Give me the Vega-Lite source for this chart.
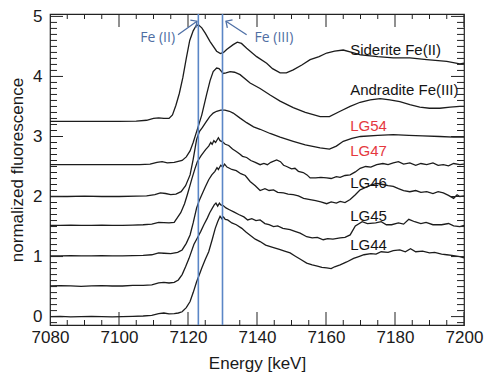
{
  "$schema": "https://vega.github.io/schema/vega-lite/v6.json",
  "width": 414,
  "height": 311,
  "autosize": {"type": "none"},
  "padding": {"left": 50, "top": 14, "right": 22, "bottom": 48},
  "background": "white",
  "config": {
    "view": {"stroke": "#222222", "strokeWidth": 1.2}
  },
  "datasets": {
    "spectra": [
      {"s":"Siderite","E":7080,"v":3.25},{"s":"Siderite","E":7085,"v":3.25},{"s":"Siderite","E":7090,"v":3.25},{"s":"Siderite","E":7095,"v":3.25},{"s":"Siderite","E":7100,"v":3.25},{"s":"Siderite","E":7105,"v":3.255},{"s":"Siderite","E":7108,"v":3.27},{"s":"Siderite","E":7110,"v":3.30},{"s":"Siderite","E":7111.5,"v":3.31},{"s":"Siderite","E":7113,"v":3.30},{"s":"Siderite","E":7114.5,"v":3.30},{"s":"Siderite","E":7115.5,"v":3.36},{"s":"Siderite","E":7116.5,"v":3.52},{"s":"Siderite","E":7117.5,"v":3.72},{"s":"Siderite","E":7118.5,"v":3.98},{"s":"Siderite","E":7119.5,"v":4.30},{"s":"Siderite","E":7120.5,"v":4.60},{"s":"Siderite","E":7121.5,"v":4.76},{"s":"Siderite","E":7122.3,"v":4.84},{"s":"Siderite","E":7123,"v":4.86},{"s":"Siderite","E":7124,"v":4.81},{"s":"Siderite","E":7125,"v":4.72},{"s":"Siderite","E":7126.4,"v":4.58},{"s":"Siderite","E":7128.3,"v":4.42},{"s":"Siderite","E":7129.4,"v":4.38},{"s":"Siderite","E":7130.3,"v":4.40},{"s":"Siderite","E":7131.2,"v":4.45},{"s":"Siderite","E":7133.1,"v":4.53},{"s":"Siderite","E":7134.3,"v":4.57},{"s":"Siderite","E":7135.5,"v":4.55},{"s":"Siderite","E":7137,"v":4.47},{"s":"Siderite","E":7139.9,"v":4.33},{"s":"Siderite","E":7142.8,"v":4.22},{"s":"Siderite","E":7144.5,"v":4.13},{"s":"Siderite","E":7146.7,"v":4.06},{"s":"Siderite","E":7148.5,"v":4.06},{"s":"Siderite","E":7150.5,"v":4.11},{"s":"Siderite","E":7153,"v":4.19},{"s":"Siderite","E":7155.4,"v":4.28},{"s":"Siderite","E":7158,"v":4.33},{"s":"Siderite","E":7160.2,"v":4.39},{"s":"Siderite","E":7162.5,"v":4.42},{"s":"Siderite","E":7165,"v":4.44},{"s":"Siderite","E":7167.5,"v":4.40},{"s":"Siderite","E":7170,"v":4.36},{"s":"Siderite","E":7175,"v":4.33},{"s":"Siderite","E":7179.5,"v":4.31},{"s":"Siderite","E":7184.3,"v":4.31},{"s":"Siderite","E":7189.2,"v":4.28},{"s":"Siderite","E":7195,"v":4.25},{"s":"Siderite","E":7198.8,"v":4.21},{"s":"Siderite","E":7200,"v":4.22},

      {"s":"Andradite","E":7080,"v":2.53},{"s":"Andradite","E":7090,"v":2.53},{"s":"Andradite","E":7100,"v":2.53},{"s":"Andradite","E":7106,"v":2.53},{"s":"Andradite","E":7109,"v":2.54},{"s":"Andradite","E":7111,"v":2.57},{"s":"Andradite","E":7112.5,"v":2.58},{"s":"Andradite","E":7114,"v":2.56},{"s":"Andradite","E":7116,"v":2.57},{"s":"Andradite","E":7118.3,"v":2.60},{"s":"Andradite","E":7119.5,"v":2.66},{"s":"Andradite","E":7120.6,"v":2.76},{"s":"Andradite","E":7121.5,"v":2.90},{"s":"Andradite","E":7122.5,"v":3.08},{"s":"Andradite","E":7124,"v":3.36},{"s":"Andradite","E":7125.4,"v":3.70},{"s":"Andradite","E":7126.4,"v":3.93},{"s":"Andradite","E":7127.3,"v":4.08},{"s":"Andradite","E":7128.3,"v":4.14},{"s":"Andradite","E":7129,"v":4.13},{"s":"Andradite","E":7130.2,"v":4.05},{"s":"Andradite","E":7131,"v":4.06},{"s":"Andradite","E":7132.2,"v":4.08},{"s":"Andradite","E":7133.5,"v":4.07},{"s":"Andradite","E":7135.1,"v":4.03},{"s":"Andradite","E":7138,"v":3.89},{"s":"Andradite","E":7140.9,"v":3.80},{"s":"Andradite","E":7143.8,"v":3.69},{"s":"Andradite","E":7146.7,"v":3.59},{"s":"Andradite","E":7150.5,"v":3.48},{"s":"Andradite","E":7154,"v":3.40},{"s":"Andradite","E":7158.3,"v":3.33},{"s":"Andradite","E":7161,"v":3.33},{"s":"Andradite","E":7164.1,"v":3.42},{"s":"Andradite","E":7167,"v":3.50},{"s":"Andradite","E":7169.9,"v":3.57},{"s":"Andradite","E":7172.8,"v":3.61},{"s":"Andradite","E":7175.7,"v":3.63},{"s":"Andradite","E":7178.5,"v":3.61},{"s":"Andradite","E":7181.4,"v":3.58},{"s":"Andradite","E":7184.3,"v":3.53},{"s":"Andradite","E":7187.2,"v":3.49},{"s":"Andradite","E":7190,"v":3.47},{"s":"Andradite","E":7193,"v":3.47},{"s":"Andradite","E":7196,"v":3.49},{"s":"Andradite","E":7198.8,"v":3.50},{"s":"Andradite","E":7200,"v":3.50},

      {"s":"LG54","E":7080,"v":2.00},{"s":"LG54","E":7085,"v":2.00},{"s":"LG54","E":7090,"v":2.005},{"s":"LG54","E":7095,"v":2.00},{"s":"LG54","E":7100,"v":2.00},{"s":"LG54","E":7105,"v":2.005},{"s":"LG54","E":7108,"v":2.01},{"s":"LG54","E":7110.4,"v":2.03},{"s":"LG54","E":7112,"v":2.06},{"s":"LG54","E":7113.5,"v":2.05},{"s":"LG54","E":7115,"v":2.03},{"s":"LG54","E":7116.5,"v":2.04},{"s":"LG54","E":7118,"v":2.08},{"s":"LG54","E":7119.3,"v":2.18},{"s":"LG54","E":7120.6,"v":2.36},{"s":"LG54","E":7121.5,"v":2.62},{"s":"LG54","E":7122.5,"v":2.95},{"s":"LG54","E":7123.3,"v":3.08},{"s":"LG54","E":7124.2,"v":3.15},{"s":"LG54","E":7125.2,"v":3.24},{"s":"LG54","E":7126.3,"v":3.33},{"s":"LG54","E":7127.3,"v":3.39},{"s":"LG54","E":7128.3,"v":3.42},{"s":"LG54","E":7129.5,"v":3.44},{"s":"LG54","E":7130.7,"v":3.44},{"s":"LG54","E":7132,"v":3.42},{"s":"LG54","E":7133.1,"v":3.39},{"s":"LG54","E":7135,"v":3.31},{"s":"LG54","E":7137,"v":3.23},{"s":"LG54","E":7139,"v":3.16},{"s":"LG54","E":7140.9,"v":3.12},{"s":"LG54","E":7143.8,"v":3.05},{"s":"LG54","E":7146.7,"v":2.99},{"s":"LG54","E":7150.5,"v":2.92},{"s":"LG54","E":7154,"v":2.86},{"s":"LG54","E":7158.3,"v":2.81},{"s":"LG54","E":7161,"v":2.79},{"s":"LG54","E":7163,"v":2.84},{"s":"LG54","E":7165,"v":2.92},{"s":"LG54","E":7167.5,"v":2.97},{"s":"LG54","E":7170,"v":3.00},{"s":"LG54","E":7175,"v":3.02},{"s":"LG54","E":7179.5,"v":3.03},{"s":"LG54","E":7184,"v":3.02},{"s":"LG54","E":7188,"v":3.01},{"s":"LG54","E":7193,"v":3.00},{"s":"LG54","E":7197,"v":2.99},{"s":"LG54","E":7200,"v":2.99},

      {"s":"LG47","E":7080,"v":1.52},{"s":"LG47","E":7083,"v":1.52},{"s":"LG47","E":7086,"v":1.525},{"s":"LG47","E":7089,"v":1.52},{"s":"LG47","E":7092,"v":1.52},{"s":"LG47","E":7095,"v":1.525},{"s":"LG47","E":7098,"v":1.52},{"s":"LG47","E":7101,"v":1.52},{"s":"LG47","E":7104,"v":1.525},{"s":"LG47","E":7107,"v":1.53},{"s":"LG47","E":7109.5,"v":1.54},{"s":"LG47","E":7111.5,"v":1.57},{"s":"LG47","E":7113,"v":1.565},{"s":"LG47","E":7114.5,"v":1.56},{"s":"LG47","E":7116,"v":1.57},{"s":"LG47","E":7117.9,"v":1.73},{"s":"LG47","E":7119,"v":1.88},{"s":"LG47","E":7119.8,"v":2.03},{"s":"LG47","E":7120.5,"v":2.17},{"s":"LG47","E":7121.2,"v":2.31},{"s":"LG47","E":7122,"v":2.46},{"s":"LG47","E":7122.7,"v":2.58},{"s":"LG47","E":7123.8,"v":2.68},{"s":"LG47","E":7125.1,"v":2.78},{"s":"LG47","E":7126,"v":2.84},{"s":"LG47","E":7126.6,"v":2.90},{"s":"LG47","E":7127,"v":2.87},{"s":"LG47","E":7127.5,"v":2.93},{"s":"LG47","E":7128,"v":2.90},{"s":"LG47","E":7128.8,"v":2.98},{"s":"LG47","E":7129.3,"v":2.93},{"s":"LG47","E":7130,"v":2.91},{"s":"LG47","E":7130.8,"v":2.87},{"s":"LG47","E":7131.8,"v":2.85},{"s":"LG47","E":7132.9,"v":2.79},{"s":"LG47","E":7134,"v":2.75},{"s":"LG47","E":7135,"v":2.71},{"s":"LG47","E":7135.8,"v":2.67},{"s":"LG47","E":7137,"v":2.65},{"s":"LG47","E":7138.2,"v":2.60},{"s":"LG47","E":7139.5,"v":2.57},{"s":"LG47","E":7140.9,"v":2.53},{"s":"LG47","E":7142,"v":2.55},{"s":"LG47","E":7143,"v":2.53},{"s":"LG47","E":7144,"v":2.57},{"s":"LG47","E":7145.7,"v":2.61},{"s":"LG47","E":7146.8,"v":2.58},{"s":"LG47","E":7147.7,"v":2.52},{"s":"LG47","E":7148.6,"v":2.50},{"s":"LG47","E":7150,"v":2.46},{"s":"LG47","E":7151,"v":2.47},{"s":"LG47","E":7152,"v":2.42},{"s":"LG47","E":7153.4,"v":2.40},{"s":"LG47","E":7154.5,"v":2.36},{"s":"LG47","E":7155.4,"v":2.31},{"s":"LG47","E":7157,"v":2.31},{"s":"LG47","E":7158.5,"v":2.32},{"s":"LG47","E":7160.2,"v":2.31},{"s":"LG47","E":7161.5,"v":2.30},{"s":"LG47","E":7163,"v":2.33},{"s":"LG47","E":7164.1,"v":2.32},{"s":"LG47","E":7165.5,"v":2.35},{"s":"LG47","E":7167,"v":2.36},{"s":"LG47","E":7168.5,"v":2.41},{"s":"LG47","E":7169.9,"v":2.47},{"s":"LG47","E":7171.5,"v":2.50},{"s":"LG47","E":7173,"v":2.49},{"s":"LG47","E":7174.7,"v":2.53},{"s":"LG47","E":7176.5,"v":2.55},{"s":"LG47","E":7178,"v":2.53},{"s":"LG47","E":7179.5,"v":2.56},{"s":"LG47","E":7181,"v":2.58},{"s":"LG47","E":7182.5,"v":2.54},{"s":"LG47","E":7184.3,"v":2.56},{"s":"LG47","E":7186,"v":2.52},{"s":"LG47","E":7187.5,"v":2.55},{"s":"LG47","E":7189.2,"v":2.53},{"s":"LG47","E":7191,"v":2.56},{"s":"LG47","E":7192.5,"v":2.52},{"s":"LG47","E":7194,"v":2.53},{"s":"LG47","E":7195.5,"v":2.51},{"s":"LG47","E":7197,"v":2.55},{"s":"LG47","E":7198.8,"v":2.53},{"s":"LG47","E":7200,"v":2.54},

      {"s":"LG46","E":7080,"v":1.01},{"s":"LG46","E":7083,"v":1.01},{"s":"LG46","E":7086,"v":1.015},{"s":"LG46","E":7089,"v":1.01},{"s":"LG46","E":7092,"v":1.01},{"s":"LG46","E":7095,"v":1.015},{"s":"LG46","E":7098,"v":1.01},{"s":"LG46","E":7101,"v":1.01},{"s":"LG46","E":7104,"v":1.015},{"s":"LG46","E":7107,"v":1.02},{"s":"LG46","E":7109.5,"v":1.03},{"s":"LG46","E":7111.5,"v":1.06},{"s":"LG46","E":7113,"v":1.055},{"s":"LG46","E":7115,"v":1.05},{"s":"LG46","E":7117,"v":1.07},{"s":"LG46","E":7118.3,"v":1.11},{"s":"LG46","E":7119.5,"v":1.22},{"s":"LG46","E":7120.6,"v":1.36},{"s":"LG46","E":7121.5,"v":1.56},{"s":"LG46","E":7122.5,"v":1.81},{"s":"LG46","E":7123.3,"v":1.94},{"s":"LG46","E":7124,"v":2.03},{"s":"LG46","E":7125,"v":2.16},{"s":"LG46","E":7126,"v":2.28},{"s":"LG46","E":7126.9,"v":2.36},{"s":"LG46","E":7127.8,"v":2.42},{"s":"LG46","E":7128.4,"v":2.48},{"s":"LG46","E":7128.8,"v":2.45},{"s":"LG46","E":7129.5,"v":2.52},{"s":"LG46","E":7130.1,"v":2.49},{"s":"LG46","E":7130.6,"v":2.54},{"s":"LG46","E":7131.3,"v":2.49},{"s":"LG46","E":7132.7,"v":2.45},{"s":"LG46","E":7134,"v":2.43},{"s":"LG46","E":7135.3,"v":2.38},{"s":"LG46","E":7136.6,"v":2.35},{"s":"LG46","E":7138,"v":2.25},{"s":"LG46","E":7139.5,"v":2.18},{"s":"LG46","E":7140.9,"v":2.10},{"s":"LG46","E":7142.3,"v":2.13},{"s":"LG46","E":7143.5,"v":2.10},{"s":"LG46","E":7144.8,"v":2.11},{"s":"LG46","E":7146,"v":2.07},{"s":"LG46","E":7147.7,"v":2.06},{"s":"LG46","E":7149,"v":2.04},{"s":"LG46","E":7150.5,"v":2.03},{"s":"LG46","E":7152,"v":2.01},{"s":"LG46","E":7153.5,"v":1.97},{"s":"LG46","E":7155.4,"v":1.95},{"s":"LG46","E":7157,"v":1.93},{"s":"LG46","E":7158.5,"v":1.91},{"s":"LG46","E":7160.2,"v":1.88},{"s":"LG46","E":7161.5,"v":1.91},{"s":"LG46","E":7163,"v":1.89},{"s":"LG46","E":7164.1,"v":1.92},{"s":"LG46","E":7165.5,"v":1.90},{"s":"LG46","E":7167,"v":1.95},{"s":"LG46","E":7168.5,"v":2.03},{"s":"LG46","E":7169.9,"v":2.11},{"s":"LG46","E":7171.5,"v":2.15},{"s":"LG46","E":7173,"v":2.19},{"s":"LG46","E":7174.7,"v":2.22},{"s":"LG46","E":7176.5,"v":2.20},{"s":"LG46","E":7178,"v":2.18},{"s":"LG46","E":7179.5,"v":2.17},{"s":"LG46","E":7181,"v":2.13},{"s":"LG46","E":7182.5,"v":2.10},{"s":"LG46","E":7184.3,"v":2.08},{"s":"LG46","E":7186,"v":2.10},{"s":"LG46","E":7187.5,"v":2.07},{"s":"LG46","E":7189.2,"v":2.08},{"s":"LG46","E":7191,"v":2.05},{"s":"LG46","E":7192.5,"v":2.08},{"s":"LG46","E":7194,"v":2.06},{"s":"LG46","E":7195.5,"v":2.02},{"s":"LG46","E":7197,"v":1.97},{"s":"LG46","E":7198,"v":2.03},{"s":"LG46","E":7198.8,"v":2.00},{"s":"LG46","E":7200,"v":2.01},

      {"s":"LG45","E":7080,"v":0.51},{"s":"LG45","E":7083,"v":0.515},{"s":"LG45","E":7086,"v":0.51},{"s":"LG45","E":7089,"v":0.505},{"s":"LG45","E":7092,"v":0.51},{"s":"LG45","E":7095,"v":0.515},{"s":"LG45","E":7098,"v":0.51},{"s":"LG45","E":7101,"v":0.51},{"s":"LG45","E":7104,"v":0.52},{"s":"LG45","E":7107,"v":0.52},{"s":"LG45","E":7109.5,"v":0.53},{"s":"LG45","E":7111.5,"v":0.56},{"s":"LG45","E":7113,"v":0.57},{"s":"LG45","E":7114.5,"v":0.56},{"s":"LG45","E":7116,"v":0.57},{"s":"LG45","E":7117.2,"v":0.61},{"s":"LG45","E":7118.3,"v":0.70},{"s":"LG45","E":7119.3,"v":0.83},{"s":"LG45","E":7120.3,"v":0.97},{"s":"LG45","E":7121.7,"v":1.20},{"s":"LG45","E":7122.7,"v":1.31},{"s":"LG45","E":7123.7,"v":1.42},{"s":"LG45","E":7124.6,"v":1.53},{"s":"LG45","E":7125.6,"v":1.64},{"s":"LG45","E":7126.3,"v":1.73},{"s":"LG45","E":7127.1,"v":1.81},{"s":"LG45","E":7127.6,"v":1.86},{"s":"LG45","E":7128.1,"v":1.89},{"s":"LG45","E":7128.6,"v":1.84},{"s":"LG45","E":7129.1,"v":1.89},{"s":"LG45","E":7129.5,"v":1.86},{"s":"LG45","E":7130.2,"v":1.85},{"s":"LG45","E":7131,"v":1.81},{"s":"LG45","E":7132,"v":1.78},{"s":"LG45","E":7133.4,"v":1.74},{"s":"LG45","E":7134.7,"v":1.70},{"s":"LG45","E":7136.2,"v":1.66},{"s":"LG45","E":7137.3,"v":1.61},{"s":"LG45","E":7138.5,"v":1.63},{"s":"LG45","E":7139.7,"v":1.60},{"s":"LG45","E":7140.9,"v":1.61},{"s":"LG45","E":7142.3,"v":1.55},{"s":"LG45","E":7143.5,"v":1.53},{"s":"LG45","E":7144.8,"v":1.50},{"s":"LG45","E":7146,"v":1.51},{"s":"LG45","E":7147.5,"v":1.47},{"s":"LG45","E":7149.6,"v":1.45},{"s":"LG45","E":7151,"v":1.42},{"s":"LG45","E":7152.5,"v":1.39},{"s":"LG45","E":7154.4,"v":1.33},{"s":"LG45","E":7156,"v":1.31},{"s":"LG45","E":7157.5,"v":1.32},{"s":"LG45","E":7159.2,"v":1.28},{"s":"LG45","E":7160.5,"v":1.30},{"s":"LG45","E":7162,"v":1.29},{"s":"LG45","E":7164.1,"v":1.31},{"s":"LG45","E":7165.5,"v":1.32},{"s":"LG45","E":7167,"v":1.36},{"s":"LG45","E":7168.5,"v":1.51},{"s":"LG45","E":7170.5,"v":1.58},{"s":"LG45","E":7172,"v":1.55},{"s":"LG45","E":7174.4,"v":1.56},{"s":"LG45","E":7176,"v":1.58},{"s":"LG45","E":7177.5,"v":1.53},{"s":"LG45","E":7179,"v":1.53},{"s":"LG45","E":7181,"v":1.56},{"s":"LG45","E":7182.5,"v":1.54},{"s":"LG45","E":7184,"v":1.62},{"s":"LG45","E":7185.7,"v":1.58},{"s":"LG45","E":7187.5,"v":1.55},{"s":"LG45","E":7189,"v":1.57},{"s":"LG45","E":7191,"v":1.53},{"s":"LG45","E":7193.5,"v":1.53},{"s":"LG45","E":7195.5,"v":1.55},{"s":"LG45","E":7197,"v":1.51},{"s":"LG45","E":7198.8,"v":1.50},{"s":"LG45","E":7200,"v":1.52},

      {"s":"LG44","E":7080,"v":0.00},{"s":"LG44","E":7083,"v":0.005},{"s":"LG44","E":7086,"v":-0.005},{"s":"LG44","E":7089,"v":0.00},{"s":"LG44","E":7092,"v":0.005},{"s":"LG44","E":7095,"v":0.00},{"s":"LG44","E":7098,"v":-0.005},{"s":"LG44","E":7101,"v":0.00},{"s":"LG44","E":7104,"v":0.005},{"s":"LG44","E":7107,"v":0.01},{"s":"LG44","E":7109.5,"v":0.02},{"s":"LG44","E":7111.5,"v":0.05},{"s":"LG44","E":7113,"v":0.06},{"s":"LG44","E":7114.5,"v":0.045},{"s":"LG44","E":7116,"v":0.05},{"s":"LG44","E":7117.2,"v":0.06},{"s":"LG44","E":7118.3,"v":0.08},{"s":"LG44","E":7119.5,"v":0.15},{"s":"LG44","E":7120.6,"v":0.25},{"s":"LG44","E":7121.5,"v":0.40},{"s":"LG44","E":7122.5,"v":0.58},{"s":"LG44","E":7123.3,"v":0.70},{"s":"LG44","E":7124,"v":0.81},{"s":"LG44","E":7125,"v":0.95},{"s":"LG44","E":7126,"v":1.08},{"s":"LG44","E":7127,"v":1.28},{"s":"LG44","E":7127.9,"v":1.47},{"s":"LG44","E":7128.6,"v":1.58},{"s":"LG44","E":7129.3,"v":1.67},{"s":"LG44","E":7129.8,"v":1.63},{"s":"LG44","E":7130.3,"v":1.66},{"s":"LG44","E":7130.8,"v":1.62},{"s":"LG44","E":7131.5,"v":1.61},{"s":"LG44","E":7132.7,"v":1.56},{"s":"LG44","E":7134,"v":1.53},{"s":"LG44","E":7135.6,"v":1.47},{"s":"LG44","E":7136.8,"v":1.41},{"s":"LG44","E":7137.9,"v":1.36},{"s":"LG44","E":7139.5,"v":1.29},{"s":"LG44","E":7140.9,"v":1.25},{"s":"LG44","E":7142.5,"v":1.19},{"s":"LG44","E":7144.8,"v":1.15},{"s":"LG44","E":7146.5,"v":1.12},{"s":"LG44","E":7148,"v":1.09},{"s":"LG44","E":7149.6,"v":1.06},{"s":"LG44","E":7151,"v":1.01},{"s":"LG44","E":7152.7,"v":0.95},{"s":"LG44","E":7154.4,"v":0.89},{"s":"LG44","E":7156,"v":0.86},{"s":"LG44","E":7157.5,"v":0.84},{"s":"LG44","E":7158.8,"v":0.82},{"s":"LG44","E":7160.2,"v":0.81},{"s":"LG44","E":7161.5,"v":0.80},{"s":"LG44","E":7162.5,"v":0.83},{"s":"LG44","E":7164.1,"v":0.86},{"s":"LG44","E":7166,"v":0.91},{"s":"LG44","E":7168,"v":0.97},{"s":"LG44","E":7169.5,"v":1.00},{"s":"LG44","E":7171,"v":1.03},{"s":"LG44","E":7173,"v":1.05},{"s":"LG44","E":7174.5,"v":1.04},{"s":"LG44","E":7176,"v":1.08},{"s":"LG44","E":7178,"v":1.07},{"s":"LG44","E":7179.5,"v":1.10},{"s":"LG44","E":7181.4,"v":1.11},{"s":"LG44","E":7183,"v":1.08},{"s":"LG44","E":7184.5,"v":1.13},{"s":"LG44","E":7186,"v":1.08},{"s":"LG44","E":7188,"v":1.09},{"s":"LG44","E":7190,"v":1.06},{"s":"LG44","E":7191.5,"v":1.07},{"s":"LG44","E":7193.5,"v":1.04},{"s":"LG44","E":7195,"v":1.03},{"s":"LG44","E":7196.5,"v":1.02},{"s":"LG44","E":7198.8,"v":1.00},{"s":"LG44","E":7200,"v":0.98}
    ],
    "labels": [
      {"t":"Siderite Fe(II)","E":7167,"v":4.445,"kind":"standard"},
      {"t":"Andradite Fe(III)","E":7167,"v":3.78,"kind":"standard"},
      {"t":"LG54","E":7167,"v":3.18,"kind":"highlighted"},
      {"t":"LG47","E":7167,"v":2.75,"kind":"highlighted"},
      {"t":"LG46","E":7167,"v":2.23,"kind":"sample"},
      {"t":"LG45","E":7167,"v":1.68,"kind":"sample"},
      {"t":"LG44","E":7167,"v":1.195,"kind":"sample"}
    ],
    "edges": [
      {"lab":"Fe (II)","E":7123},
      {"lab":"Fe (III)","E":7130}
    ],
    "arrows": [
      {"lab":"Fe (II)","E0":7117.1,"v0":4.695,"E1":7122.6,"v1":4.92,"Et":7111.2,"vt":4.645},
      {"lab":"Fe (III)","E0":7137.0,"v0":4.695,"E1":7131.0,"v1":4.92,"Et":7144.9,"vt":4.645}
    ],
    "xmajor": [{"E":7080},{"E":7100},{"E":7120},{"E":7140},{"E":7160},{"E":7180},{"E":7200}],
    "xminor": [{"E":7085},{"E":7090},{"E":7095},{"E":7105},{"E":7110},{"E":7115},{"E":7125},{"E":7130},{"E":7135},{"E":7145},{"E":7150},{"E":7155},{"E":7165},{"E":7170},{"E":7175},{"E":7185},{"E":7190},{"E":7195}],
    "ymajor": [{"v":0},{"v":1},{"v":2},{"v":3},{"v":4},{"v":5}],
    "yminor": [{"v":-0.1},{"v":0.1},{"v":0.2},{"v":0.3},{"v":0.4},{"v":0.5},{"v":0.6},{"v":0.7},{"v":0.8},{"v":0.9},{"v":1.1},{"v":1.2},{"v":1.3},{"v":1.4},{"v":1.5},{"v":1.6},{"v":1.7},{"v":1.8},{"v":1.9},{"v":2.1},{"v":2.2},{"v":2.3},{"v":2.4},{"v":2.5},{"v":2.6},{"v":2.7},{"v":2.8},{"v":2.9},{"v":3.1},{"v":3.2},{"v":3.3},{"v":3.4},{"v":3.5},{"v":3.6},{"v":3.7},{"v":3.8},{"v":3.9},{"v":4.1},{"v":4.2},{"v":4.3},{"v":4.4},{"v":4.5},{"v":4.6},{"v":4.7},{"v":4.8},{"v":4.9}]
  },
  "layer": [
    {
      "data": {"name": "spectra"},
      "mark": {"type": "line", "color": "#1c1c1c", "strokeWidth": 1.3},
      "encoding": {
        "x": {"field": "E", "type": "quantitative", "scale": {"domain": [7080, 7200], "nice": false, "zero": false},
              "axis": {"orient": "bottom", "title": "Energy [keV]", "values": [7080, 7100, 7120, 7140, 7160, 7180, 7200], "format": "d", "ticks": false, "tickSize": 0, "grid": false, "domain": false, "labelPadding": 4, "labelFont": "Liberation Sans", "labelColor": "#1a1a1a", "labelFontSize": 17, "titleFont": "Liberation Sans", "titleColor": "#1a1a1a", "titleFontWeight": "normal", "titleFontSize": 17, "titlePadding": 10, "labelFlush": false}},
        "y": {"field": "v", "type": "quantitative", "scale": {"domain": [-0.14, 5.04], "nice": false, "zero": false},
              "axis": {"orient": "left", "title": "normalized fluorescence", "values": [0, 1, 2, 3, 4, 5], "format": "d", "ticks": false, "tickSize": 0, "grid": false, "domain": false, "labelPadding": 8, "labelFont": "Liberation Sans", "labelColor": "#1a1a1a", "labelFontSize": 17, "titleFont": "Liberation Sans", "titleColor": "#1a1a1a", "titleFontWeight": "normal", "titleFontSize": 17, "titlePadding": 6, "labelFlush": false}},
        "detail": {"field": "s"}
      }
    },
    {
      "data": {"name": "xmajor"},
      "mark": {"type": "tick", "orient": "vertical", "size": 26, "thickness": 1, "color": "#222222", "opacity": 1, "clip": true},
      "encoding": {
        "x": {"field": "E", "type": "quantitative", "axis": null},
        "y": {"datum": -0.14, "type": "quantitative", "axis": null}
      }
    },
    {
      "data": {"name": "xmajor"},
      "mark": {"type": "tick", "orient": "vertical", "size": 26, "thickness": 1, "color": "#222222", "opacity": 1, "clip": true},
      "encoding": {
        "x": {"field": "E", "type": "quantitative", "axis": null},
        "y": {"datum": 5.04, "type": "quantitative", "axis": null}
      }
    },
    {
      "data": {"name": "xminor"},
      "mark": {"type": "tick", "orient": "vertical", "size": 10, "thickness": 1, "color": "#222222", "opacity": 1, "clip": true},
      "encoding": {
        "x": {"field": "E", "type": "quantitative", "axis": null},
        "y": {"datum": -0.14, "type": "quantitative", "axis": null}
      }
    },
    {
      "data": {"name": "xminor"},
      "mark": {"type": "tick", "orient": "vertical", "size": 10, "thickness": 1, "color": "#222222", "opacity": 1, "clip": true},
      "encoding": {
        "x": {"field": "E", "type": "quantitative", "axis": null},
        "y": {"datum": 5.04, "type": "quantitative", "axis": null}
      }
    },
    {
      "data": {"name": "ymajor"},
      "mark": {"type": "tick", "orient": "horizontal", "size": 26, "thickness": 1, "color": "#222222", "opacity": 1, "clip": true},
      "encoding": {
        "y": {"field": "v", "type": "quantitative", "axis": null},
        "x": {"datum": 7080, "type": "quantitative", "axis": null}
      }
    },
    {
      "data": {"name": "ymajor"},
      "mark": {"type": "tick", "orient": "horizontal", "size": 26, "thickness": 1, "color": "#222222", "opacity": 1, "clip": true},
      "encoding": {
        "y": {"field": "v", "type": "quantitative", "axis": null},
        "x": {"datum": 7200, "type": "quantitative", "axis": null}
      }
    },
    {
      "data": {"name": "yminor"},
      "mark": {"type": "tick", "orient": "horizontal", "size": 14, "thickness": 1, "color": "#222222", "opacity": 1, "clip": true},
      "encoding": {
        "y": {"field": "v", "type": "quantitative", "axis": null},
        "x": {"datum": 7080, "type": "quantitative", "axis": null}
      }
    },
    {
      "data": {"name": "yminor"},
      "mark": {"type": "tick", "orient": "horizontal", "size": 14, "thickness": 1, "color": "#222222", "opacity": 1, "clip": true},
      "encoding": {
        "y": {"field": "v", "type": "quantitative", "axis": null},
        "x": {"datum": 7200, "type": "quantitative", "axis": null}
      }
    },
    {
      "data": {"name": "labels"},
      "mark": {"type": "text", "align": "left", "baseline": "middle", "font": "Liberation Sans", "fontSize": 15},
      "encoding": {
        "x": {"field": "E", "type": "quantitative", "axis": null},
        "y": {"field": "v", "type": "quantitative", "axis": null},
        "text": {"field": "t"},
        "color": {"field": "kind", "type": "nominal", "scale": {"domain": ["standard", "sample", "highlighted"], "range": ["#141414", "#141414", "#e5383e"]}, "legend": null}
      }
    },
    {
      "data": {"name": "arrows"},
      "mark": {"type": "rule", "color": "#4f70a6", "strokeWidth": 1.3},
      "encoding": {
        "x": {"field": "E0", "type": "quantitative", "axis": null},
        "y": {"field": "v0", "type": "quantitative", "axis": null},
        "x2": {"field": "E1"},
        "y2": {"field": "v1"}
      }
    },
    {
      "data": {"name": "arrows"},
      "mark": {"type": "point", "shape": "M -1 1 L 0 0 L 1 1", "filled": false, "size": 90, "color": "#4f70a6", "strokeWidth": 1.3, "opacity": 1},
      "encoding": {
        "x": {"field": "E1", "type": "quantitative", "axis": null},
        "y": {"field": "v1", "type": "quantitative", "axis": null},
        "angle": {"field": "lab", "type": "nominal", "scale": {"domain": ["Fe (II)", "Fe (III)"], "range": [55, 303]}, "legend": null}
      }
    },
    {
      "data": {"name": "arrows"},
      "mark": {"type": "text", "align": "center", "baseline": "middle", "font": "Open Sans", "fontSize": 14, "color": "#4f6ea3"},
      "encoding": {
        "x": {"field": "Et", "type": "quantitative", "axis": null},
        "y": {"field": "vt", "type": "quantitative", "axis": null},
        "text": {"field": "lab"}
      }
    },
    {
      "data": {"name": "edges"},
      "mark": {"type": "rule", "color": "#5b86c6", "strokeWidth": 1.6},
      "encoding": {
        "x": {"field": "E", "type": "quantitative", "axis": null}
      }
    }
  ],
  "resolve": {"axis": {"x": "independent", "y": "independent"}}
}
